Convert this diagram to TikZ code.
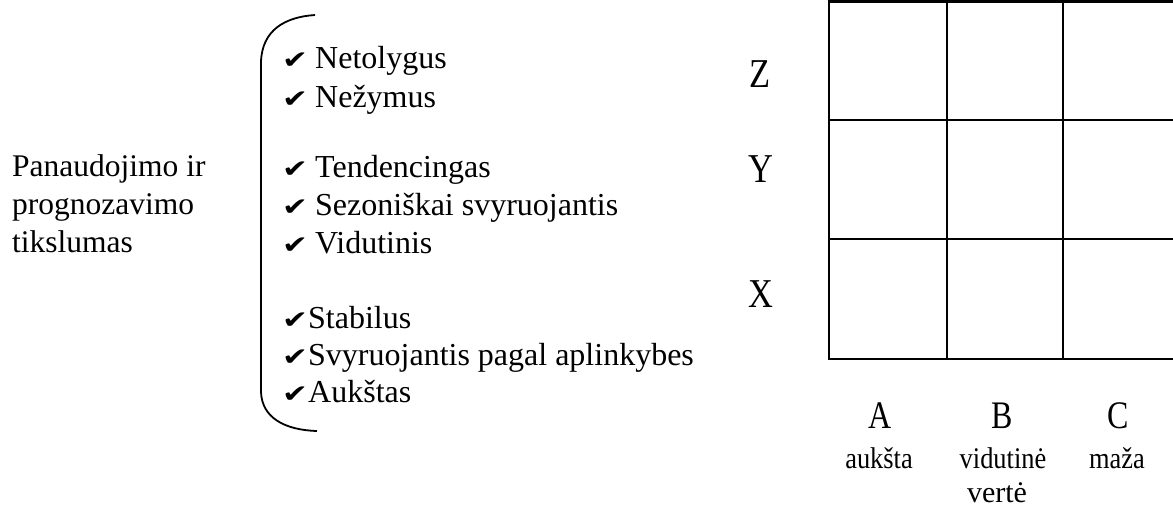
\documentclass[tikz,border=0pt]{standalone}
\usepackage{fontspec}
\setmainfont{Liberation Serif}
\newfontfamily\checkfont{DejaVu Sans}
\newcommand{\ck}{{\checkfont\fontsize{31}{36}\selectfont\scalebox{1}[0.8]{✔}}}
\newcommand{\cks}{\makebox[33pt][l]{\ck}}
\newcommand{\ckn}{\makebox[26pt][l]{\ck}}
\begin{document}
\begin{tikzpicture}[x=1pt,y=-1pt,
  txt/.style={inner sep=0pt,anchor=base west,font=\fontsize{32}{38}\selectfont},
  ltxt/.style={inner sep=0pt,anchor=base west,font=\fontsize{31.5}{38}\selectfont},
  rowlab/.style={inner sep=0pt,anchor=base,font=\fontsize{41}{48}\selectfont,xscale=0.84},
  collab/.style={inner sep=0pt,anchor=base,font=\fontsize{39}{46}\selectfont,xscale=0.82},
  sublab/.style={inner sep=0pt,anchor=base,font=\fontsize{30}{36}\selectfont,xscale=0.88},
  gridline/.style={line width=2.6pt},
  bracket/.style={line width=1.8pt}]
\useasboundingbox (0,0) rectangle (1173,507);
% left label
\node[ltxt] (l1) at (12,176) {Panaudojimo ir};
\node[ltxt] (l2) at (12,214) {prognozavimo};
\node[ltxt] (l3) at (12,252) {tikslumas};
% bracket
\coordinate (bt) at (315,15);
\coordinate (bb) at (317,431);
\draw[bracket] (bt) .. controls (285,17) and (262,30) .. (261,62) -- (261,392) .. controls (262,418) and (285,430) .. (bb);
% list
\node[txt] (a1) at (282,68) {\cks Netolygus};
\node[txt] (a2) at (282,107) {\cks Nežymus};
\node[txt] (b1) at (282,177) {\cks Tendencingas};
\node[txt] (b2) at (282,215) {\cks Sezoniškai svyruojantis};
\node[txt] (b3) at (282,253) {\cks Vidutinis};
\node[txt] (c1) at (282,328) {\ckn Stabilus};
\node[txt] (c2) at (282,365) {\ckn Svyruojantis pagal aplinkybes};
\node[txt] (c3) at (282,402) {\ckn Aukštas};
% grid
\draw[gridline] (829,1.3) -- (1180,1.3);
\draw[gridline] (829,120) -- (1180,120);
\draw[gridline] (829,239) -- (1180,239);
\draw[gridline] (829,359) -- (1180,359);
\draw[gridline] (829,0) -- (829,360.3);
\draw[gridline] (947,0) -- (947,360.3);
\draw[gridline] (1063,0) -- (1063,360.3);
% row labels
\node[rowlab] (z) at (760,87) {Z};
\node[rowlab] (y) at (761,182) {Y};
\node[rowlab] (x) at (761,307) {X};
% column labels
\node[collab] (ca) at (880,428) {A};
\node[collab] (cb) at (1002,428) {B};
\node[collab] (cc) at (1118,428) {C};
\node[sublab] (sa) at (879,468) {aukšta};
\node[sublab] (sb) at (1003,468) {vidutinė};
\node[sublab] (sc) at (1117,468) {maža};
\node[txt,anchor=base,font=\fontsize{30}{36}\selectfont] (sv) at (997,502) {vertė};
\end{tikzpicture}
\end{document}
